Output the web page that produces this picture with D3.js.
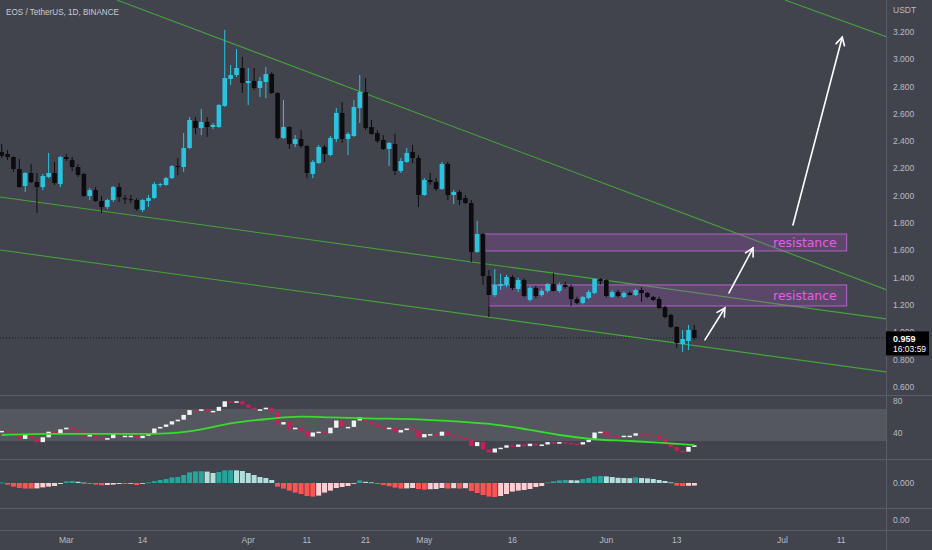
<!DOCTYPE html>
<html>
<head>
<meta charset="utf-8">
<script src="https://cdn.jsdelivr.net/npm/d3@7"></script>
<style>
  body { margin: 0; background: #42444d; }
  svg { display: block; }
</style>
</head>
<body>
<script>
// EOS / USDT daily, 18 Feb 2022 -> 16 Jun 2022
const firstDay = Date.UTC(2022, 1, 18);
const DAY = 864e5;

// [open, high, low, close]
const candles = [
  [2.321, 2.380, 2.277, 2.292], [2.306, 2.336, 2.262, 2.284], [2.284, 2.290, 2.174, 2.196], [2.196, 2.270, 2.060, 2.064],
  [2.072, 2.174, 2.028, 2.167], [2.167, 2.233, 2.094, 2.101], [2.101, 2.167, 1.874, 2.064], [2.064, 2.160, 2.042, 2.145],
  [2.138, 2.314, 2.130, 2.167], [2.167, 2.248, 2.079, 2.094], [2.086, 2.292, 2.064, 2.284], [2.284, 2.306, 2.255, 2.270],
  [2.262, 2.284, 2.180, 2.211], [2.211, 2.233, 2.138, 2.152], [2.160, 2.167, 1.991, 1.999], [1.999, 2.057, 1.969, 2.042],
  [2.042, 2.064, 1.955, 1.962], [1.962, 1.999, 1.874, 1.918], [1.918, 1.977, 1.903, 1.969], [1.969, 2.072, 1.955, 2.064],
  [2.064, 2.094, 1.955, 1.991], [1.982, 2.006, 1.940, 1.977], [1.975, 2.006, 1.947, 1.969], [1.969, 1.984, 1.889, 1.903],
  [1.896, 1.977, 1.881, 1.969], [1.962, 2.006, 1.918, 1.984], [1.984, 2.101, 1.977, 2.086], [2.079, 2.094, 2.064, 2.086],
  [2.079, 2.138, 2.072, 2.130], [2.130, 2.226, 2.123, 2.218], [2.218, 2.277, 2.152, 2.211], [2.211, 2.460, 2.174, 2.350],
  [2.350, 2.577, 2.343, 2.555], [2.548, 2.577, 2.453, 2.497], [2.497, 2.636, 2.445, 2.541], [2.541, 2.577, 2.431, 2.504],
  [2.504, 2.533, 2.489, 2.519], [2.504, 2.672, 2.497, 2.665], [2.658, 3.215, 2.651, 2.863], [2.856, 2.958, 2.812, 2.885],
  [2.885, 3.075, 2.870, 2.936], [2.936, 3.017, 2.753, 2.826], [2.826, 2.936, 2.665, 2.841], [2.841, 2.936, 2.775, 2.790],
  [2.790, 2.870, 2.724, 2.841], [2.834, 2.944, 2.716, 2.892], [2.892, 2.907, 2.746, 2.753], [2.753, 2.760, 2.416, 2.423],
  [2.423, 2.702, 2.416, 2.504], [2.504, 2.511, 2.343, 2.380], [2.380, 2.445, 2.357, 2.416], [2.416, 2.482, 2.350, 2.365],
  [2.365, 2.372, 2.130, 2.167], [2.160, 2.262, 2.130, 2.248], [2.240, 2.372, 2.233, 2.358], [2.358, 2.372, 2.248, 2.306],
  [2.299, 2.438, 2.290, 2.423], [2.416, 2.643, 2.394, 2.607], [2.607, 2.687, 2.387, 2.416], [2.416, 2.467, 2.299, 2.453],
  [2.438, 2.702, 2.431, 2.651], [2.643, 2.885, 2.533, 2.760], [2.760, 2.863, 2.482, 2.497], [2.504, 2.555, 2.445, 2.453],
  [2.460, 2.482, 2.387, 2.401], [2.409, 2.445, 2.336, 2.343], [2.343, 2.394, 2.218, 2.387], [2.379, 2.453, 2.152, 2.182],
  [2.182, 2.277, 2.167, 2.255], [2.248, 2.350, 2.240, 2.314], [2.321, 2.372, 2.240, 2.277], [2.277, 2.299, 1.918, 2.006],
  [2.006, 2.130, 1.999, 2.116], [2.116, 2.167, 2.080, 2.101], [2.101, 2.130, 2.035, 2.050], [2.050, 2.248, 2.042, 2.233],
  [2.233, 2.248, 1.969, 2.006], [2.006, 2.042, 1.940, 2.028], [2.028, 2.042, 1.933, 1.969], [1.984, 2.006, 1.940, 1.947],
  [1.947, 1.969, 1.515, 1.588], [1.588, 1.815, 1.581, 1.720], [1.720, 1.727, 1.347, 1.412], [1.412, 1.456, 1.112, 1.273],
  [1.273, 1.464, 1.259, 1.347], [1.339, 1.430, 1.310, 1.354], [1.347, 1.420, 1.330, 1.405], [1.405, 1.420, 1.310, 1.325],
  [1.317, 1.400, 1.295, 1.383], [1.383, 1.395, 1.260, 1.266], [1.237, 1.340, 1.225, 1.325], [1.325, 1.340, 1.250, 1.266],
  [1.273, 1.320, 1.260, 1.303], [1.303, 1.360, 1.290, 1.354], [1.354, 1.434, 1.300, 1.303], [1.303, 1.365, 1.290, 1.347],
  [1.347, 1.370, 1.320, 1.332], [1.332, 1.350, 1.193, 1.244], [1.244, 1.260, 1.205, 1.215], [1.215, 1.265, 1.205, 1.259],
  [1.251, 1.310, 1.240, 1.295], [1.288, 1.395, 1.280, 1.390], [1.390, 1.398, 1.350, 1.376], [1.383, 1.390, 1.255, 1.266],
  [1.259, 1.310, 1.250, 1.295], [1.295, 1.310, 1.255, 1.266], [1.259, 1.300, 1.250, 1.288], [1.288, 1.300, 1.270, 1.273],
  [1.273, 1.320, 1.265, 1.310], [1.310, 1.330, 1.222, 1.288], [1.288, 1.295, 1.250, 1.259], [1.259, 1.266, 1.230, 1.237],
  [1.244, 1.260, 1.170, 1.178], [1.185, 1.195, 1.100, 1.112], [1.127, 1.135, 1.030, 1.039], [1.039, 1.045, 0.885, 0.922],
  [0.914, 1.017, 0.856, 0.951], [0.936, 1.054, 0.870, 1.017], [1.017, 1.054, 0.945, 0.959]
];

const rsi = [
  42, 40, 36, 32, 37, 33, 28, 34, 41, 38, 44, 46, 43, 40, 35, 37, 33, 31, 33, 38,
  36, 36, 36, 33, 36, 38, 45, 47, 50, 54, 56, 62, 68, 67, 69, 66, 67, 72, 79, 78,
  79, 75, 71, 69, 69, 71, 66, 50, 53, 44, 46, 42, 35, 40, 41, 39, 46, 55, 47, 47,
  55, 59, 54, 50, 47, 45, 46, 40, 43, 45, 43, 34, 38, 38, 36, 41, 37, 35, 33, 32,
  23, 28, 19, 15, 20, 21, 24, 22, 25, 23, 26, 24, 25, 28, 26, 28, 27, 26, 25, 28,
  31, 40, 41, 37, 36, 35, 36, 36, 39, 38, 37, 36, 31, 27, 22, 17, 16, 22, 24
];
// [day index, value]
const rsiMa = [
  [0, 37.5], [8, 38.8], [17, 38.8], [25, 38.8], [29, 39.8], [34, 44.6], [39, 52], [45, 57.2],
  [51, 60.4], [56, 59.6], [62, 58.4], [71, 57.1], [78, 54.1], [84, 50.5], [89.5, 44.5],
  [95, 37.5], [101, 32.2], [107, 30], [112, 28], [118, 25]
];

const macdHist = [
  0.002, -0.008, -0.018, -0.025, -0.028, -0.028, -0.027, -0.022, -0.018, -0.015,
  -0.005, 0.008, 0.010, 0.006, 0.002, -0.005, -0.008, -0.011, -0.010, -0.008,
  -0.005, -0.005, -0.004, -0.010, -0.003, 0.003, 0.009, 0.015, 0.020, 0.028,
  0.030, 0.040, 0.053, 0.058, 0.059, 0.057, 0.050, 0.055, 0.063, 0.064,
  0.063, 0.060, 0.050, 0.040, 0.030, 0.025, 0.015, -0.018, -0.028, -0.038,
  -0.048, -0.055, -0.065, -0.068, -0.063, -0.048, -0.038, -0.025, -0.020, -0.015,
  -0.003, 0.013, 0.006, 0.003, -0.005, -0.011, -0.016, -0.023, -0.028, -0.027,
  -0.025, -0.030, -0.033, -0.031, -0.030, -0.025, -0.028, -0.026, -0.028, -0.026,
  -0.040, -0.050, -0.060, -0.068, -0.070, -0.065, -0.055, -0.043, -0.038, -0.035,
  -0.030, -0.020, -0.015, 0.003, 0.008, 0.013, 0.015, 0.014, 0.013, 0.020,
  0.025, 0.033, 0.035, 0.033, 0.030, 0.026, 0.025, 0.024, 0.028, 0.025,
  0.023, 0.020, 0.015, 0.010, 0.003, -0.013, -0.015, -0.014, -0.013
];

const priceTicks = [0.6, 0.8, 1.0, 1.2, 1.4, 1.6, 1.8, 2.0, 2.2, 2.4, 2.6, 2.8, 3.0, 3.2];
const rsiTicks = [80, 40];
const timeTicks = [
  ["2022-03-01", "Mar"], ["2022-03-14", "14"], ["2022-04-01", "Apr"], ["2022-04-11", "11"],
  ["2022-04-21", "21"], ["2022-05-01", "May"], ["2022-05-16", "16"], ["2022-06-01", "Jun"],
  ["2022-06-13", "13"], ["2022-07-01", "Jul"], ["2022-07-11", "11"]
];

// drawings: [day index, price] pairs
const trendLines = [
  [[19.64, 3.434], [150.82, 1.310]],
  [[-0.29, 1.991], [150.82, 1.097]],
  [[-0.29, 1.603], [150.82, 0.709]],
  [[133.44, 3.434], [150.82, 3.163]]
];
const zones = [
  { from: 82.3, to: 143.95, top: 1.720, bottom: 1.596, label: "resistance" },
  { from: 83.0, to: 143.95, top: 1.347, bottom: 1.193, label: "resistance" }
];
const arrows = [
  [[119.8, 0.944], [123.2, 1.178]],
  [[123.9, 1.288], [128.0, 1.618]],
  [[134.8, 1.786], [143.2, 3.163]]
];
const lastPrice = 0.959;
const countdown = "16:03:59";

const W = 932, H = 550, plotW = 886;
const pricePane = [0, 395], rsiPane = [395, 459], macdPane = [459, 508], emptyPane = [508, 530];
const font = "'Liberation Sans', Arial, sans-serif";

const dayToDate = d => new Date(firstDay + d * DAY);
const x = d3.scaleUtc()
  .domain([dayToDate(-0.29), dayToDate(150.65)])
  .range([0, plotW]);
const y = d3.scaleLinear().domain([0.6, 3.2]).range([386.9, 32]);
const yRsi = d3.scaleLinear().domain([0, 100]).range([465, 385]);
const yMacd = d3.scaleLinear().domain([-0.125, 0.12]).range([508, 459]);

const svg = d3.select("body").append("svg")
  .attr("width", W).attr("height", H)
  .style("font-family", font);

svg.append("rect").attr("width", W).attr("height", H).attr("fill", "#42444d");

const defs = svg.append("defs");
[["clipPrice", pricePane], ["clipRsi", rsiPane], ["clipMacd", macdPane]].forEach(([id, p]) => {
  defs.append("clipPath").attr("id", id)
    .append("rect").attr("x", 0).attr("y", p[0]).attr("width", plotW).attr("height", p[1] - p[0]);
});

// ---- price pane
const gp = svg.append("g").attr("clip-path", "url(#clipPrice)");

// last price dotted line
gp.append("line")
  .attr("x1", 0).attr("x2", plotW)
  .attr("y1", y(lastPrice)).attr("y2", y(lastPrice))
  .attr("stroke", "#1c1d22").attr("stroke-dasharray", "1,2");

// channel lines
gp.selectAll(".trend").data(trendLines).join("line")
  .attr("x1", d => x(dayToDate(d[0][0]))).attr("y1", d => y(d[0][1]))
  .attr("x2", d => x(dayToDate(d[1][0]))).attr("y2", d => y(d[1][1]))
  .attr("stroke", "#46a23a").attr("stroke-width", 1.1);

// resistance zones
const zg = gp.selectAll(".zone").data(zones).join("g");
zg.append("rect")
  .attr("x", d => x(dayToDate(d.from)))
  .attr("y", d => y(d.top))
  .attr("width", d => x(dayToDate(d.to)) - x(dayToDate(d.from)))
  .attr("height", d => y(d.bottom) - y(d.top))
  .attr("fill", "rgba(176, 82, 205, 0.22)")
  .attr("stroke", "#b95fd2").attr("stroke-width", 1);
zg.append("text")
  .attr("x", d => x(dayToDate(d.to)) - 10)
  .attr("y", d => (y(d.top) + y(d.bottom)) / 2)
  .attr("dy", "0.35em")
  .attr("text-anchor", "end")
  .attr("fill", "#e55eea")
  .style("font-family", "'DejaVu Sans', sans-serif")
  .style("font-size", "12.4px")
  .text(d => d.label);

// candles
const bodyW = 4.6;
const cg = gp.selectAll(".candle").data(candles).join("g");
const col = d => d[3] >= d[0] ? "#2bc3df" : "#0c0c0f";
cg.append("line")
  .attr("x1", (d, i) => x(dayToDate(i))).attr("x2", (d, i) => x(dayToDate(i)))
  .attr("y1", d => y(d[1])).attr("y2", d => y(d[2]))
  .attr("stroke", col).attr("stroke-width", 1);
cg.append("rect")
  .attr("x", (d, i) => x(dayToDate(i)) - bodyW / 2)
  .attr("width", bodyW)
  .attr("y", d => y(Math.max(d[0], d[3])))
  .attr("height", d => Math.max(1, Math.abs(y(d[0]) - y(d[3]))))
  .attr("fill", col);

// arrows
const ag = gp.selectAll(".arrow").data(arrows).join("g")
  .attr("stroke", "#ffffff").attr("stroke-width", 1.6).attr("fill", "none")
  .attr("stroke-linecap", "round");
ag.append("line")
  .attr("x1", d => x(dayToDate(d[0][0]))).attr("y1", d => y(d[0][1]))
  .attr("x2", d => x(dayToDate(d[1][0]))).attr("y2", d => y(d[1][1]));
ag.append("path").attr("d", d => {
  const x1 = x(dayToDate(d[0][0])), y1 = y(d[0][1]);
  const x2 = x(dayToDate(d[1][0])), y2 = y(d[1][1]);
  const a = Math.atan2(y1 - y2, x1 - x2), L = 9, s = 0.5;
  return `M${x2 + L * Math.cos(a - s)},${y2 + L * Math.sin(a - s)}L${x2},${y2}L${x2 + L * Math.cos(a + s)},${y2 + L * Math.sin(a + s)}`;
});

// title
svg.append("text").attr("x", 6).attr("y", 12).attr("dy", "0.35em")
  .attr("fill", "#c9cbd2").style("font-size", "9px")
  .attr("textLength", 113).attr("lengthAdjust", "spacingAndGlyphs")
  .text("EOS / TetherUS, 1D, BINANCE");

// ---- RSI pane
const gr = svg.append("g").attr("clip-path", "url(#clipRsi)");
gr.append("rect")
  .attr("x", 0).attr("width", plotW)
  .attr("y", yRsi(70)).attr("height", yRsi(30) - yRsi(70))
  .attr("fill", "rgba(255,255,255,0.1)");
gr.selectAll(".rsiBar").data(rsi).join("rect")
  .attr("x", (d, i) => x(dayToDate(i)) - 2.2)
  .attr("width", 4.4)
  .attr("y", (d, i) => {
    const o = i ? rsi[i - 1] : d;
    return Math.min(yRsi(o), yRsi(d)) - 0.5;
  })
  .attr("height", (d, i) => {
    const o = i ? rsi[i - 1] : d;
    return Math.max(1.5, Math.abs(yRsi(o) - yRsi(d)));
  })
  .attr("fill", (d, i) => (i && d < rsi[i - 1]) ? "#c81e5a" : "#f2f2f2");
gr.append("path").datum(rsiMa)
  .attr("d", d3.line().x(d => x(dayToDate(d[0]))).y(d => yRsi(d[1])).curve(d3.curveMonotoneX))
  .attr("fill", "none").attr("stroke", "#36dd2a").attr("stroke-width", 1.8);

// ---- MACD histogram pane
const gm = svg.append("g").attr("clip-path", "url(#clipMacd)");
gm.selectAll(".hist").data(macdHist).join("rect")
  .attr("x", (d, i) => x(dayToDate(i)) - 2.5)
  .attr("width", 5)
  .attr("y", d => Math.min(yMacd(d), yMacd(0)))
  .attr("height", d => Math.max(0.8, Math.abs(yMacd(d) - yMacd(0))))
  .attr("fill", (d, i) => {
    const p = i ? macdHist[i - 1] : d;
    if (d >= 0) return d >= p ? "#26a69a" : "#b2dfdb";
    return d <= p ? "#ff5252" : "#ffcdd2";
  });

// ---- separators
const sep = "#5a5d66";
[rsiPane[0], macdPane[0], emptyPane[0], emptyPane[1]].forEach(v => {
  svg.append("line").attr("x1", 0).attr("x2", W).attr("y1", v + 0.5).attr("y2", v + 0.5)
    .attr("stroke", sep);
});
svg.append("line").attr("x1", plotW + 0.5).attr("x2", plotW + 0.5).attr("y1", 0).attr("y2", H)
  .attr("stroke", sep);

// ---- right axes
const axisCol = "#b8bac2";
const ax = svg.append("g").attr("fill", axisCol).style("font-size", "8.5px");
ax.append("text").attr("x", 893).attr("y", 10).attr("dy", "0.35em").text("USDT");
ax.selectAll(".pt").data(priceTicks).join("text")
  .attr("x", 893).attr("y", d => y(d)).attr("dy", "0.35em")
  .text(d => d3.format(".3f")(d));
ax.selectAll(".rt").data(rsiTicks).join("text")
  .attr("x", 893).attr("y", d => yRsi(d)).attr("dy", "0.35em")
  .text(d => d);
ax.append("text").attr("x", 893).attr("y", yMacd(0)).attr("dy", "0.35em").text("0.000");
ax.append("text").attr("x", 893).attr("y", 520).attr("dy", "0.35em").text("0.00");

// last price label (covers the 1.000 tick like the original)
const lp = svg.append("g");
lp.append("rect").attr("x", plotW).attr("y", y(lastPrice) - 6.5).attr("width", 43).attr("height", 24)
  .attr("fill", "#000000");
lp.append("text").attr("x", 893).attr("y", y(lastPrice) + 0.5).attr("dy", "0.35em")
  .attr("fill", "#ffffff").style("font-size", "9px").style("font-weight", "bold")
  .text(d3.format(".3f")(lastPrice));
lp.append("text").attr("x", 893).attr("y", y(lastPrice) + 11).attr("dy", "0.35em")
  .attr("fill", "#ffffff").style("font-size", "8.5px")
  .text(countdown);

// ---- time axis
svg.append("g").attr("fill", axisCol).style("font-size", "8.5px")
  .selectAll("text").data(timeTicks).join("text")
  .attr("x", d => x(new Date(d[0] + "T00:00:00Z")))
  .attr("y", 540).attr("dy", "0.35em").attr("text-anchor", "middle")
  .text(d => d[1]);
</script>
</body>
</html>
